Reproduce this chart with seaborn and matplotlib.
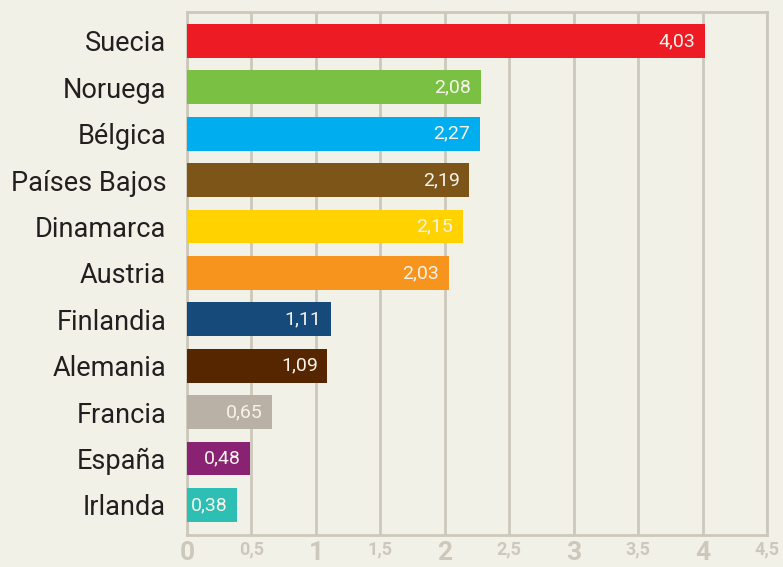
import numpy as np
import pandas as pd
import matplotlib
matplotlib.use("Agg")
import matplotlib.pyplot as plt
import seaborn as sns

# ==========================================
# DATA
# ==========================================
countries = ["Suecia", "Noruega", "Bélgica", "Países Bajos", "Dinamarca", "Austria",
             "Finlandia", "Alemania", "Francia", "España", "Irlanda"]
# longueur des barres (Noruega est dessinée plus longue que son étiquette)
values = [4.02, 2.28, 2.27, 2.19, 2.14, 2.03, 1.12, 1.09, 0.66, 0.49, 0.39]
value_labels = ["4,03", "2,08", "2,27", "2,19", "2,15", "2,03", "1,11", "1,09", "0,65", "0,48", "0,38"]
colors = ["#ed1c24", "#7ac143", "#00aeef", "#7d5519", "#ffd200", "#f7941d",
          "#164a7b", "#552600", "#b9b1a6", "#8a2273", "#2ebfb4"]
xticks = [0, 0.5, 1, 1.5, 2, 2.5, 3, 3.5, 4, 4.5]
xtick_labels = ["0", "0,5", "1", "1,5", "2", "2,5", "3", "3,5", "4", "4,5"]

BG = "#f2f1e8"
GRID = "#cdc8bc"

df = pd.DataFrame({"pais": countries, "valor": values})

sns.set_style("white")
plt.rcParams["font.family"] = ["Roboto", "DejaVu Sans"]

fig = plt.figure(figsize=(7.83, 5.67), dpi=100, facecolor=BG)
ax = fig.add_axes([0.2388, 0.0564, 0.7408, 0.923])
ax.set_facecolor(BG)

sns.barplot(data=df, x="valor", y="pais", hue="pais", palette=colors, legend=False,
            orient="h", width=0.73, saturation=1, linewidth=0, ax=ax, zorder=3)

ax.set_xlim(0, 4.5)
ax.set_ylim(10.65, -0.63)
ax.set_xlabel("")
ax.set_ylabel("")

# grille verticale
ax.set_xticks(xticks)
ax.grid(axis="x", color=GRID, linewidth=2, zorder=0)
ax.grid(axis="y", visible=False)
for s in ax.spines.values():
    s.set_color(GRID)
    s.set_linewidth(2)

ax.set_xticklabels(xtick_labels)
for i, lab in enumerate(ax.get_xticklabels()):
    lab.set_color(GRID)
    lab.set_verticalalignment("top")
    lab.set_fontweight("bold")
    lab.set_fontsize(19 if i % 2 == 0 else 13)
ax.tick_params(axis="x", length=0, pad=4)
ax.tick_params(axis="y", length=0, pad=15, labelsize=19.5, labelcolor="#231f20")

# étiquettes dans les barres
for i, (v, t) in enumerate(zip(values, value_labels)):
    ax.text(v - 0.075, i, t, ha="right", va="center", color="#f7f3ea", fontsize=14,
            zorder=4)

fig.savefig("out.png", dpi=100, facecolor=BG)
